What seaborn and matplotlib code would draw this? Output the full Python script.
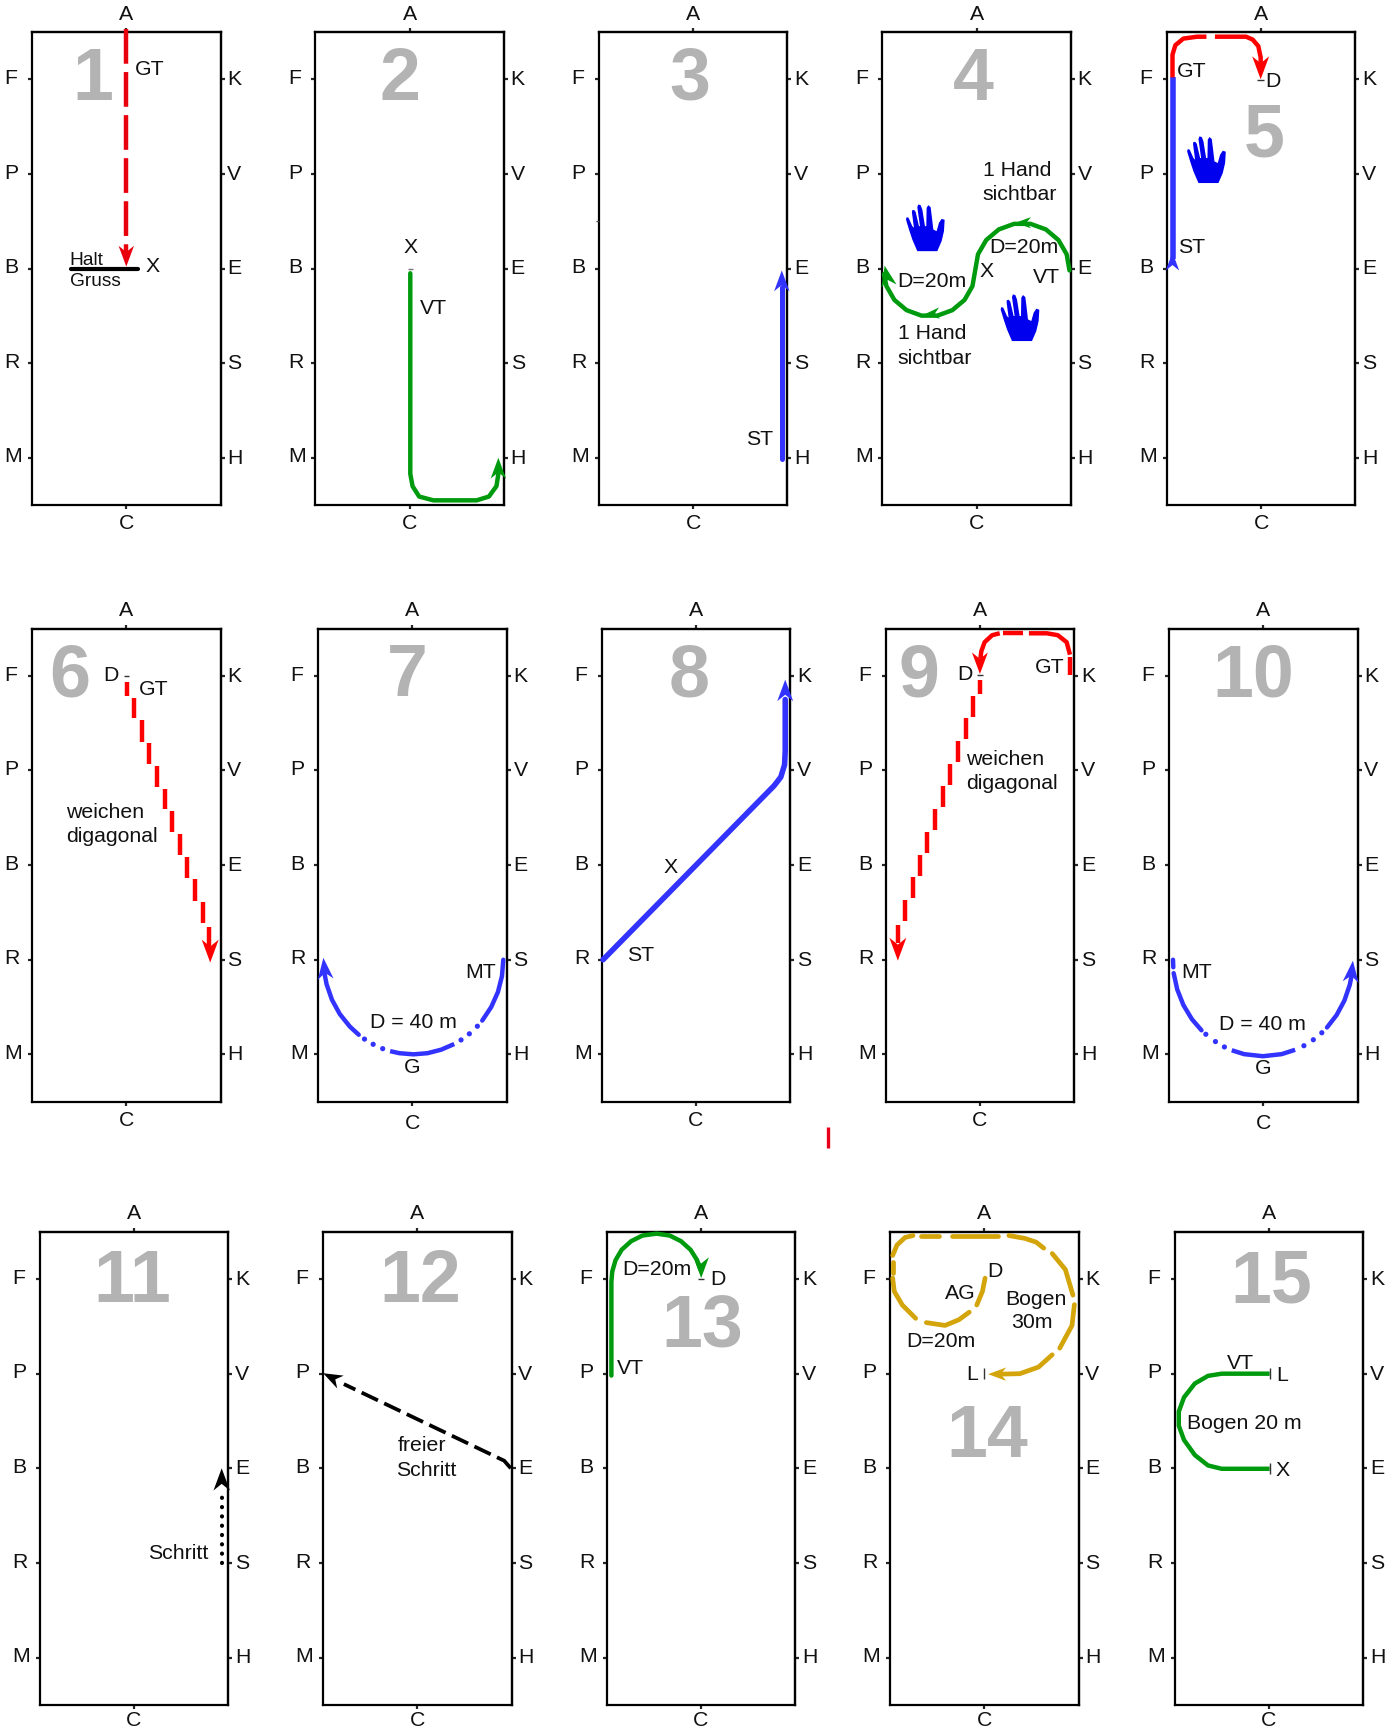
import matplotlib
matplotlib.use("Agg")
import matplotlib.pyplot as plt
import seaborn as sns
from matplotlib.markers import MarkerStyle
from matplotlib.path import Path
from matplotlib.transforms import Affine2D, ScaledTranslation

# arena letters, metres from the C end (arena is 20 x 50)
side_pos = [45, 35, 25, 15, 5]
left_letters = ["F", "P", "B", "R", "M"]
right_letters = ["K", "V", "E", "S", "H"]

# routes, all in arena metres
r1_x = [10, 10]
r1_y = [50.3, 26.5]
halt_x = [4.1, 11.2]
halt_y = [25, 25]

r2_x = [10.06, 10.06, 10.3, 11, 12.5, 17.1, 18.4, 19.2, 19.4, 19.4]
r2_y = [24.5, 3.3, 2.0, 0.9, 0.5, 0.5, 0.9, 2.0, 3.3, 4.0]

r3_x = [19.4, 19.4]
r3_y = [4.9, 23.0]

r4_x = [19.85, 19.55, 18.68, 17.35, 15.72, 13.98, 12.35, 11.02, 10.15, 9.85,
        9.56, 8.72, 7.43, 5.84, 4.16, 2.57, 1.28, 0.44, 0.17]
r4_y = [24.8, 26.51, 28.01, 29.13, 29.72, 29.72, 29.13, 28.01, 26.51, 24.8,
        23.14, 21.68, 20.6, 20.02, 20.02, 20.6, 21.68, 23.14, 24.4]

r5_blue_x = [0.6, 0.6]
r5_blue_y = [45.2, 26.0]
r5_red1_x = [0.6, 0.6, 0.9, 1.75, 3.2, 4.2]
r5_red1_y = [45.2, 47.6, 48.6, 49.3, 49.5, 49.5]
r5_red2_x = [5.1, 8.4, 9.1, 9.7, 9.95, 9.95]
r5_red2_y = [49.5, 49.5, 49.2, 48.5, 47.3, 46.0]

r6_dash_x = [10.04, 10.84, 11.64, 12.45, 13.28, 14.09, 14.85, 15.66, 16.46, 17.26, 18.1, 18.8]
r6_dash_top = [44.4, 42.7, 40.3, 37.9, 35.5, 33.07, 30.7, 28.27, 25.9, 23.5, 21.1, 18.5]
r6_dash_bottom = [42.9, 40.5, 38.06, 35.7, 33.26, 30.9, 28.46, 26.07, 23.6, 21.2, 18.9, 16.25]

r7a_x = [19.63, 19.49, 19.06, 18.35, 17.4]
r7a_y = [15, 13.26, 11.58, 10, 8.57]
r7b_x = [14.43, 13.04, 11.59, 10.1, 8.61, 7.63]
r7b_y = [6.09, 5.49, 5.12, 5, 5.12, 5.34]
r7c_x = [4.3, 3.36, 2.29, 1.46, 0.89, 0.66]
r7c_y = [7.07, 7.93, 9.26, 10.77, 12.41, 13.6]
r7_dots_x = [16.88, 16.03, 15.15, 6.84, 5.83, 4.91]
r7_dots_y = [7.97, 7.17, 6.52, 5.6, 6.06, 6.61]

r8_x = [0.15, 18.3, 19.0, 19.4, 19.47, 19.47]
r8_y = [15, 33.4, 34.3, 35.6, 37, 42.5]

r9a_x = [19.58, 19.58]
r9a_y = [45.1, 47.0]
r9b_x = [19.55, 19.2, 18.26, 17.1, 15.2]
r9b_y = [47.24, 48.56, 49.3, 49.5, 49.5]
r9c_x = [14.56, 12.4]
r9c_y = [49.5, 49.5]
r9d_x = [12.1, 11.3, 10.5, 10.15, 10.05]
r9d_y = [49.5, 49.3, 48.56, 47.6, 46.8]
r9_dash_x = [10.04, 9.25, 8.49, 7.66, 6.87, 6.04, 5.2, 4.42, 3.66, 2.87, 2.04, 1.28]
r9_dash_top = [44.6, 42.82, 40.5, 38.13, 35.68, 33.33, 30.9, 28.46, 26.08, 23.7, 21.3, 18.7]
r9_dash_bottom = [43.08, 40.7, 38.3, 35.9, 33.5, 31.14, 28.7, 26.27, 23.9, 21.54, 19.1, 16.8]

r10a_x = [0.42, 0.45]
r10a_y = [15, 14.2]
r10b_x = [0.49, 0.87, 1.52, 2.42, 3.44]
r10b_y = [13.58, 11.85, 10.21, 8.72, 7.54]
r10c_x = [6.65, 7.96, 9.95, 11.94, 13.37]
r10c_y = [5.43, 5.02, 4.8, 5.02, 5.48]
r10d_x = [16.75, 17.77, 18.6, 19.17, 19.41]
r10d_y = [7.84, 9.15, 10.69, 12.36, 13.58]
r10_dots_x = [3.9, 4.92, 5.87, 14.3, 15.3, 16.2]
r10_dots_y = [7.12, 6.35, 5.78, 5.91, 6.54, 7.28]

r11_x = [19.3, 19.3]
r11_y = [15, 22.6]

r12_x = [19.9, 19.2, 2.2]
r12_y = [25.0, 25.8, 33.9]

r13_x = [0.51, 0.51, 0.6, 0.95, 1.6, 2.6, 3.8, 5.3, 6.7, 7.9, 8.9, 9.6, 9.95]
r13_y = [34.8, 44.7, 45.8, 47, 48.1, 49, 49.6, 49.8, 49.6, 49, 48.1, 47, 46]

r14a_x = [10.08, 9.8, 9.2]
r14a_y = [45.1, 43.7, 42.26]
r14b_x = [8.4, 7.3, 5.84, 3.85]
r14b_y = [41.5, 40.7, 40.1, 40.4]
r14c_x = [2.72, 1.3, 0.45, 0.28]
r14c_y = [40.85, 42.26, 43.7, 45.1]
r14d_x = [0.28, 0.28]
r14d_y = [45.6, 46.85]
r14e_x = [0.28, 0.74, 1.6, 2.44]
r14e_y = [47.5, 48.6, 49.4, 49.6]
r14f_x = [3.3, 5.15]
r14f_y = [49.6, 49.6]
r14g_x = [6.57, 11.5]
r14g_y = [49.6, 49.6]
r14h_x = [12.6, 14.3, 15.5, 16.3]
r14h_y = [49.6, 49.3, 48.9, 48.27]
r14i_x = [17.2, 18.6, 19.4]
r14i_y = [47.7, 46, 43.3]
r14j_x = [19.55, 19.3, 18]
r14j_y = [42.3, 40.1, 37.7]
r14k_x = [17.2, 15.75, 13.77, 11.5]
r14k_y = [37, 35.7, 35, 34.95]

r15_x = [10.08, 5, 3.55, 2.15, 1, 0.45, 0.45, 1, 2.15, 3.55, 5, 10.08]
r15_y = [35, 35, 34.77, 33.96, 32.5, 31, 29.5, 28, 26.4, 25.3, 24.95, 24.95]

# hand outline as seen in the crop
hand_x = [40, 25, 15, 6, 8, 14, 25, 30, 24, 24, 30, 35, 45, 48, 40, 43, 50, 55, 63, 67,
          68, 73, 80, 84, 88, 98, 105, 113, 122, 120, 113, 100, 40]
hand_y = [160, 125, 95, 65, 58, 60, 85, 90, 45, 38, 36, 42, 85, 85, 28, 20, 22, 35, 85, 85,
          30, 22, 28, 60, 95, 100, 75, 63, 66, 100, 130, 160, 160]

RED = "#ff0000"
DARK_RED = "#e8000d"
GREEN = "#009a0e"
BLUE = "#3333ff"
GOLD = "#d3a50b"
GRAY = "#b3b3b3"
HAND = "#0000ee"
INK = "#111111"

sns.set_style("white")
plt.rcParams["font.family"] = ["Liberation Sans", "DejaVu Sans"]
plt.rcParams["lines.scale_dashes"] = False

IMG_W = 1268.5
IMG_H = 1567.0
BOX_W = 171
BOX_H = 429
LETTER = 15.3

# top-left corner of each arena box
panel_left = [29, 286, 543, 800, 1058,
              29, 288.5, 545.5, 803, 1060,
              36, 293, 550, 807, 1065]
panel_top = [29] * 5 + [570] * 5 + [1117] * 5
c_pad = [3.5] * 5 + [3.5, 6, 4, 3.5, 6] + [1.5] * 5

fig = plt.figure(figsize=(13.99, 17.28), dpi=100)


def make_panel(left, top, pad_c):
    ax = fig.add_axes([left / IMG_W, 1 - (top + BOX_H) / IMG_H, BOX_W / IMG_W, BOX_H / IMG_H])
    ax.set_xlim(0, 20)
    ax.set_ylim(0, 50)
    ax.set_xticks([10], labels=["C"])
    ax.set_yticks(side_pos, labels=left_letters)
    ax.tick_params(axis="x", bottom=True, length=3, width=1.6, pad=pad_c, labelsize=LETTER, labelcolor=INK)
    ax.tick_params(axis="y", left=True, length=3, width=1.6, pad=16.8, labelsize=LETTER, labelcolor=INK)
    left_shift = ScaledTranslation(0, 2 / 72, fig.dpi_scale_trans)
    for lab in ax.get_yticklabels():
        lab.set_ha("left")
        lab.set_transform(lab.get_transform() + left_shift)
    for sp in ax.spines.values():
        sp.set_linewidth(1.6)
        sp.set_color("black")

    top_ax = ax.secondary_xaxis("top")
    top_ax.set_xticks([10], labels=["A"])
    top_ax.tick_params(axis="x", top=True, length=3, width=1.6, pad=3, labelsize=LETTER, labelcolor=INK)
    right_ax = ax.secondary_yaxis("right")
    right_ax.set_yticks(side_pos, labels=right_letters)
    right_ax.tick_params(axis="y", right=True, length=3, width=1.6, pad=1.8, labelsize=LETTER, labelcolor=INK)
    right_shift = ScaledTranslation(0, 1.2 / 72, fig.dpi_scale_trans)
    for lab in right_ax.get_yticklabels():
        lab.set_transform(lab.get_transform() + right_shift)
    for side_ax in (top_ax, right_ax):
        for sp in side_ax.spines.values():
            sp.set_linewidth(1.6)
    return ax


def route(ax, xs, ys, color, lw=3.2, ls="-", cap="round"):
    sns.lineplot(x=xs, y=ys, sort=False, estimator=None, color=color, linewidth=lw,
                 linestyle=ls, ax=ax, clip_on=False, solid_capstyle=cap, dash_capstyle=cap,
                 solid_joinstyle="round", legend=False, zorder=3)


def head(ax, x, y, angle, color, size=33):
    # barbed arrow head with its tip on (x, y); angle is counter-clockwise from north
    shape = Path([(0, 0), (0.37, -1), (0, -0.7), (-0.37, -1), (0, 0)], closed=True)
    style = MarkerStyle(shape, transform=Affine2D().rotate_deg(angle))
    sns.scatterplot(x=[x], y=[y], marker=style, s=size ** 2, color=color, edgecolor="none",
                    linewidth=0, ax=ax, clip_on=False, legend=False, zorder=4)


def hand(ax, x, y):
    verts = [(hx - 64, 90 - hy) for hx, hy in zip(hand_x, hand_y)]
    sns.scatterplot(x=[x], y=[y], marker=MarkerStyle(Path(verts, closed=True)), s=33.6 ** 2,
                    color=HAND, edgecolor="none", linewidth=0, ax=ax, legend=False, zorder=3)


def stairs(ax, xs, tops, bottoms, color):
    for x, t, b in zip(xs, tops, bottoms):
        route(ax, [x, x], [t, b], color, lw=3.2, cap="butt")


def dots(ax, xs, ys, color):
    sns.scatterplot(x=xs, y=ys, s=14, color=color, edgecolor="none", linewidth=0, ax=ax,
                    legend=False, zorder=3)


def note(ax, x, y, s, size=LETTER, ha="center"):
    ax.text(x, y - 0.12, s, fontsize=size, ha=ha, va="center", color=INK, zorder=5)


def number(ax, x, y, s):
    ax.text(x, y, s, fontsize=53, fontweight="bold", color=GRAY, ha="center",
            va="center_baseline", zorder=1)


def stub(ax, xs, ys, color="#333333"):
    route(ax, xs, ys, color, lw=1.0, cap="butt")


axes = [make_panel(l, t, p) for l, t, p in zip(panel_left, panel_top, c_pad)]

# 1
ax = axes[0]
number(ax, 6.4, 45.7, "1")
route(ax, r1_x, r1_y, DARK_RED, ls=(0, (25, 6)), cap="butt")
head(ax, 10, 25.2, 180, DARK_RED, size=30)
route(ax, halt_x, halt_y, "black", lw=3)
note(ax, 12.75, 25.3, "X")
note(ax, 12.5, 46.2, "GT")
note(ax, 4.0, 26.0, "Halt", size=13.8, ha="left")
note(ax, 4.0, 23.7, "Gruss", size=13.8, ha="left")

# 2
ax = axes[1]
number(ax, 9, 45.7, "2")
route(ax, r2_x, r2_y, GREEN)
head(ax, 19.4, 5, 0, GREEN, size=30)
stub(ax, [9.8, 10.3], [24.95, 24.95], "#777777")
note(ax, 10.06, 27.3, "X")
note(ax, 12.5, 20.9, "VT")

# 3
ax = axes[2]
number(ax, 9.6, 45.7, "3")
route(ax, r3_x, r3_y, BLUE, lw=3.6)
head(ax, 19.4, 24.8, 0, BLUE, size=30)
note(ax, 17, 7.1, "ST")
stub(ax, [-0.3, 0], [30, 30], "#444444")

# 4
ax = axes[3]
number(ax, 9.7, 45.7, "4")
route(ax, r4_x, r4_y, GREEN)
head(ax, 14.15, 29.84, 90, GREEN, size=22)
head(ax, 4.45, 20.15, 95, GREEN, size=22)
head(ax, 0.25, 25.3, 12, GREEN, size=30)
hand(ax, 4.56, 29.3)
hand(ax, 14.6, 19.8)
note(ax, 14.3, 35.5, "1 Hand")
note(ax, 14.6, 32.9, "sichtbar")
note(ax, 15, 27.3, "D=20m")
note(ax, 17.4, 24.2, "VT")
note(ax, 11.1, 24.8, "X")
note(ax, 5.3, 23.8, "D=20m")
note(ax, 5.3, 18.2, "1 Hand")
note(ax, 5.6, 15.6, "sichtbar")

# 5
ax = axes[4]
number(ax, 10.3, 39.7, "5")
route(ax, r5_blue_x, r5_blue_y, BLUE, lw=4, cap="butt")
head(ax, 0.6, 26.7, 0, BLUE, size=26)
route(ax, r5_red1_x, r5_red1_y, RED, cap="butt")
route(ax, r5_red2_x, r5_red2_y, RED, cap="butt")
head(ax, 9.95, 45.0, 180, RED, size=33)
stub(ax, [9.6, 10.3], [44.9, 44.9])
hand(ax, 4.2, 36.5)
note(ax, 2.6, 45.9, "GT")
note(ax, 11.3, 44.9, "D")
note(ax, 2.6, 27.3, "ST")

# 6
ax = axes[5]
number(ax, 4, 45.7, "6")
stairs(ax, r6_dash_x, r6_dash_top, r6_dash_bottom, RED)
head(ax, 18.9, 14.7, 180, RED)
stub(ax, [9.8, 10.3], [45, 45])
note(ax, 8.4, 45.2, "D")
note(ax, 12.9, 43.7, "GT")
note(ax, 3.6, 30.65, "weichen", ha="left")
note(ax, 3.6, 28.1, "digagonal", ha="left")

# 7
ax = axes[6]
number(ax, 9.5, 45.7, "7")
route(ax, r7a_x, r7a_y, BLUE)
route(ax, r7b_x, r7b_y, BLUE, cap="butt")
route(ax, r7c_x, r7c_y, BLUE)
dots(ax, r7_dots_x, r7_dots_y, BLUE)
head(ax, 0.55, 15.2, 6, BLUE, size=31)
note(ax, 17.25, 13.75, "MT")
note(ax, 10.1, 8.5, "D = 40 m")
note(ax, 10, 3.7, "G")

# 8
ax = axes[7]
number(ax, 9.3, 45.7, "8")
route(ax, r8_x, r8_y, BLUE, lw=4)
head(ax, 19.47, 44.6, 0, BLUE, size=31)
note(ax, 7.3, 24.9, "X")
note(ax, 4.15, 15.6, "ST")

# 9
ax = axes[8]
number(ax, 3.5, 45.7, "9")
route(ax, r9a_x, r9a_y, RED, cap="butt")
route(ax, r9b_x, r9b_y, RED, cap="butt")
route(ax, r9c_x, r9c_y, RED, cap="butt")
route(ax, r9d_x, r9d_y, RED, cap="butt")
head(ax, 10, 45.2, 180, RED, size=31)
stub(ax, [9.7, 10.3], [45.1, 45.1])
stairs(ax, r9_dash_x, r9_dash_top, r9_dash_bottom, RED)
head(ax, 1.3, 14.9, 180, RED)
note(ax, 8.4, 45.3, "D")
note(ax, 17.4, 46, "GT")
note(ax, 8.55, 36.25, "weichen", ha="left")
note(ax, 8.55, 33.7, "digagonal", ha="left")
# stray red mark below the panel
route(ax, [-6.08, -6.08], [-2.68, -4.9], "#e8001a", lw=2.4, cap="butt")

# 10
ax = axes[9]
number(ax, 8.9, 45.7, "10")
route(ax, r10a_x, r10a_y, BLUE)
route(ax, r10b_x, r10b_y, BLUE)
route(ax, r10c_x, r10c_y, BLUE, cap="butt")
route(ax, r10d_x, r10d_y, BLUE)
dots(ax, r10_dots_x, r10_dots_y, BLUE)
head(ax, 19.5, 14.9, -6, BLUE, size=31)
note(ax, 2.9, 13.75, "MT")
note(ax, 9.95, 8.3, "D = 40 m")
note(ax, 9.95, 3.6, "G")

# 11
ax = axes[10]
number(ax, 9.8, 45.4, "11")
route(ax, r11_x, r11_y, "black", lw=3, ls=(0, (0.1, 6.6)))
head(ax, 19.3, 25, 0, "black", size=32)
note(ax, 14.7, 16.1, "Schritt")

# 12
ax = axes[11]
number(ax, 10.3, 45.4, "12")
route(ax, r12_x, r12_y, "black", lw=2.7, ls=(0, (13, 5)), cap="butt")
head(ax, 0, 35.05, 63, "black", size=28)
note(ax, 7.9, 27.5, "freier", ha="left")
note(ax, 7.7, 24.9, "Schritt", ha="left")

# 13
ax = axes[12]
number(ax, 10.1, 40.7, "13")
route(ax, r13_x, r13_y, GREEN)
head(ax, 10.03, 45.1, 180, GREEN, size=30)
stub(ax, [9.7, 10.3], [45, 45])
note(ax, 5.3, 46.1, "D=20m")
note(ax, 11.8, 45.1, "D")
note(ax, 2.55, 35.65, "VT")

# 14
ax = axes[13]
number(ax, 10.3, 29.1, "14")
for xs, ys in [(r14a_x, r14a_y), (r14b_x, r14b_y), (r14c_x, r14c_y), (r14d_x, r14d_y),
               (r14e_x, r14e_y), (r14f_x, r14f_y), (r14g_x, r14g_y), (r14h_x, r14h_y),
               (r14i_x, r14i_y), (r14j_x, r14j_y), (r14k_x, r14k_y)]:
    route(ax, xs, ys, GOLD, lw=3.4)
head(ax, 10.4, 34.95, 90, GOLD, size=26)
stub(ax, [10, 10], [34.4, 35.6])
note(ax, 11.1, 45.9, "D")
note(ax, 7.5, 43.6, "AG")
note(ax, 15.47, 43, "Bogen")
note(ax, 15.07, 40.5, "30m")
note(ax, 5.4, 38.55, "D=20m")
note(ax, 8.67, 35, "L")

# 15
ax = axes[14]
number(ax, 10.3, 45.4, "15")
route(ax, r15_x, r15_y, GREEN, cap="butt")
stub(ax, [10.08, 10.08], [34.4, 35.6])
stub(ax, [10.08, 10.08], [24.4, 25.6])
note(ax, 6.97, 36.2, "VT")
note(ax, 11.4, 34.9, "L")
note(ax, 7.4, 29.9, "Bogen 20 m")
note(ax, 11.5, 24.9, "X")

fig.savefig("out.png", dpi=100)
